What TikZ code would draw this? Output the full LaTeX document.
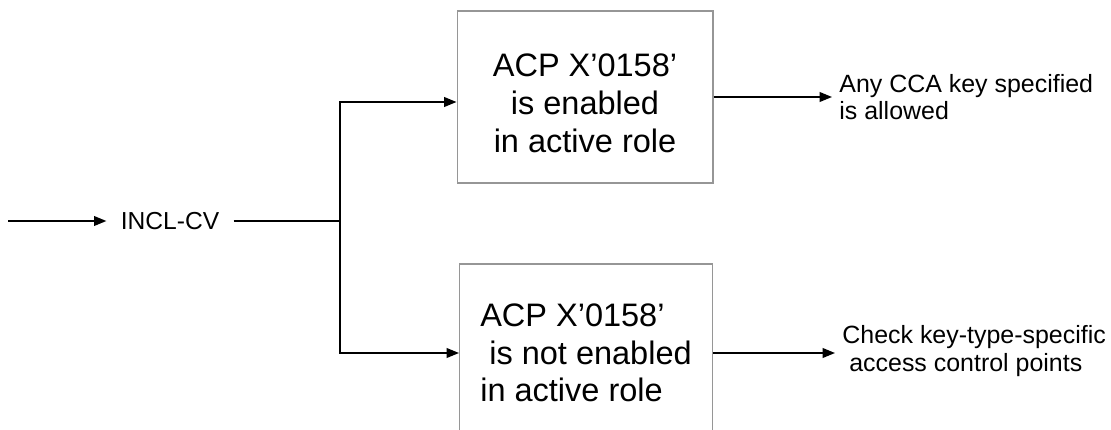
\documentclass[tikz,border=0pt]{standalone}
\usepackage{fontspec}
\setmainfont{Liberation Sans}
\usepackage{xcolor}
\usepackage{tikz}
\usetikzlibrary{positioning, arrows.meta}
\definecolor{BoxGray}{RGB}{150,150,150}
\tikzset{
  acpbox/.style={draw=BoxGray, line width=0.6pt, fill=white, inner sep=4pt,
    minimum width=5.12cm, minimum height=3.44cm, font=\fontsize{18.5}{21.5}\selectfont},
  outtxt/.style={anchor=west, align=left, inner sep=4pt, font=\fontsize{14.2}{15.5}\selectfont},
  arr/.style={-{Triangle[length=7pt, width=5.5pt]}, line width=0.9pt},
  wire/.style={line width=0.9pt},
}

\begin{document}
\begin{tikzpicture}[x=0.02cm, y=-0.02cm]
  \useasboundingbox (0,0) rectangle (1111,429);
  \clip (0,0) rectangle (1111,429);
  % input and split point
  \coordinate (src) at (8,221);
  \node[font=\fontsize{14}{16}\selectfont, inner sep=8pt] (incl) at (170,221) {INCL-CV};
  \coordinate (split) at (340,221);
  % the two cases
  \node[acpbox, align=center] (enab) at (585,97) {\rule{0pt}{20pt}ACP X’0158’\\ is enabled\\ in active role};
  \node[acpbox, align=left, minimum width=5.06cm, minimum height=3.56cm] (noen) at (586,353)
    {ACP X’0158’\\\ is not enabled\\in active role};
  \node[outtxt] (any) at (832,97) {Any CCA key specified\\is allowed};
  \node[outtxt] (chk) at (835,351) {Check key-type-specific\\\ access control points};
  % connectors
  \draw[arr] (src) -- (incl.west);
  \draw[wire] (incl.east) -- (split);
  \draw[arr] (split) |- ([yshift=-0.1cm]enab.west);
  \draw[arr] (split) |- (noen.west);
  \draw[arr] (enab.east) -- (any.west);
  \draw[arr] (noen.east) -- (noen.east -| chk.west);
\end{tikzpicture}
\end{document}
